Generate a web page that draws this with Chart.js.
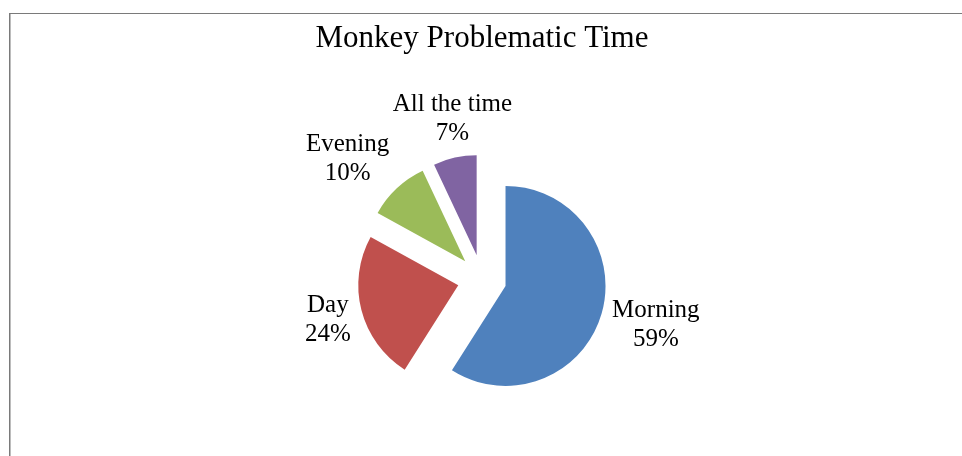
<!DOCTYPE html>
<html>
<head>
<meta charset="utf-8">
<script src="https://cdn.jsdelivr.net/npm/chart.js@4"></script>
<style>
  html, body { margin: 0; padding: 0; background: #fff; }
  canvas { display: block; }
</style>
</head>
<body>
<canvas id="chart" width="962" height="456"></canvas>
<script>
// === MONKEY PROBLEMATIC TIME PIE ===

const categories = ['Morning', 'Day', 'Evening', 'All the time'];
const shares = [59, 24, 10, 7];
const sliceColors = ['#4F81BD', '#C0504D', '#9BBB59', '#8064A2'];

const FONT = "'Liberation Serif', 'Times New Roman', serif";
const EXPLODE = 24.5;   // px each slice is pulled out from the centre
const LABEL_GAP = 11;
const LABEL_LINE = 29;

// gray frame, only top + left edges are in view
const framePlugin = {
    id: 'frame',
    beforeDraw(chart) {
        const ctx = chart.ctx;
        ctx.save();
        ctx.fillStyle = '#fff';
        ctx.fillRect(0, 0, chart.width, chart.height);
        ctx.fillStyle = '#7a7a7a';
        ctx.fillRect(9, 13, chart.width - 9, 1);
        ctx.fillRect(9, 13, 1.5, chart.height - 13);
        ctx.restore();
    }
};

// push every arc outward along its own mid angle
const explodePlugin = {
    id: 'explode',
    afterDatasetsUpdate(chart) {
        chart.getDatasetMeta(0).data.forEach(arc => {
            const mid = (arc.startAngle + arc.endAngle) / 2;
            arc.x += Math.cos(mid) * EXPLODE;
            arc.y += Math.sin(mid) * EXPLODE;
        });
    }
};

// "Name\nNN%" labels just outside each slice, Excel style (lines centred in their block)
const labelPlugin = {
    id: 'sliceLabels',
    afterDatasetsDraw(chart) {
        const ctx = chart.ctx;
        const data = chart.data.datasets[0].data;
        const total = data.reduce((a, b) => a + b, 0);
        ctx.save();
        ctx.font = `25px ${FONT}`;
        ctx.fillStyle = '#000';
        ctx.textAlign = 'center';
        ctx.textBaseline = 'middle';

        chart.getDatasetMeta(0).data.forEach((arc, i) => {
            const mid = (arc.startAngle + arc.endAngle) / 2;
            const dx = Math.cos(mid), dy = Math.sin(mid);
            const dist = arc.outerRadius + LABEL_GAP;
            const ax = arc.x + dx * dist;
            const ay = arc.y + dy * dist;

            const lines = [chart.data.labels[i], Math.round(data[i] / total * 100) + '%'];
            const w = Math.max(...lines.map(t => ctx.measureText(t).width));
            const h = lines.length * LABEL_LINE;

            let cx = ax;
            if (dx > 0.5) cx = ax + w / 2;
            else if (dx < -0.5) cx = ax - w / 2;

            // slide the block vertically with the direction of the slice
            const top = ay - h * (1 - dy) / 2;

            lines.forEach((t, j) => ctx.fillText(t, cx, top + (j + 0.5) * LABEL_LINE));
        });
        ctx.restore();
    }
};

new Chart(document.getElementById('chart').getContext('2d'), {
    type: 'pie',
    data: {
        labels: categories,
        datasets: [{
            data: shares,
            backgroundColor: sliceColors,
            borderWidth: 0,
            radius: 100
        }]
    },
    options: {
        responsive: false,
        animation: false,
        layout: { padding: { left: 2, right: 0, top: 0, bottom: 0 } },
        plugins: {
            legend: { display: false },
            tooltip: { enabled: false },
            title: {
                display: true,
                text: 'Monkey Problematic Time',
                color: '#000',
                font: { family: FONT, size: 31, weight: 'normal' },
                padding: { top: 20, bottom: 45 }
            }
        }
    },
    plugins: [framePlugin, explodePlugin, labelPlugin]
});
</script>
</body>
</html>
